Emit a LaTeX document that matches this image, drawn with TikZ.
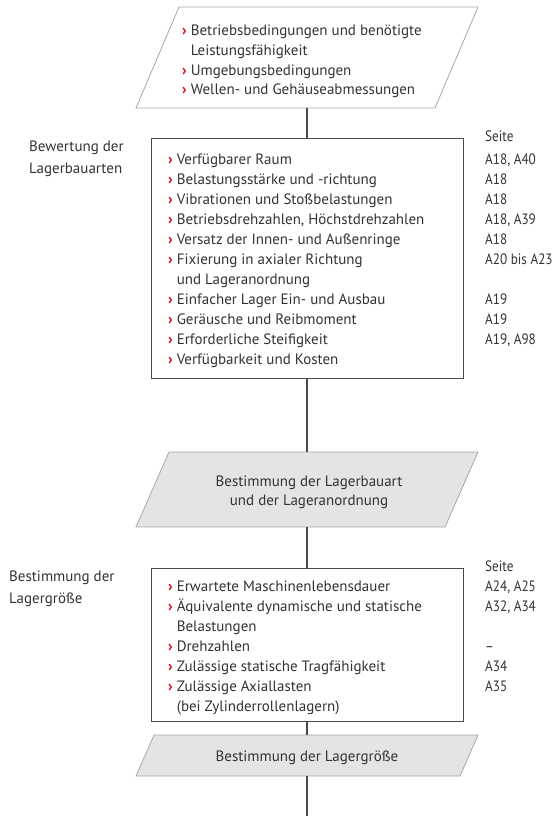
\documentclass[tikz,border=0pt]{standalone}
\usepackage{fontspec}
\setmainfont{PT Sans}
\newfontfamily\pagefont{PT Sans}[FakeStretch=0.88]
\usetikzlibrary{calc}
\definecolor{ink}{HTML}{333333}
\definecolor{chevred}{HTML}{E2001A}
\definecolor{framegray}{HTML}{4A4A4A}
\definecolor{paraline}{HTML}{A8A8A8}
\definecolor{parafill}{HTML}{E4E4E4}
\newcommand\redchev{\textcolor{chevred}{\textbf{›}}\hspace{4pt}}
\newcommand\chevgap{\hphantom{\redchev}}
\newcommand\lead[1]{\ifnum#1=1 \redchev\else\chevgap\fi}
\begin{document}
\begin{tikzpicture}[x=1pt,y=-1pt,
  font=\fontsize{15}{19}\selectfont, text=ink,
  holder/.style={inner sep=0pt, outer sep=0pt, minimum width=342pt},
  listbox/.style={draw=framegray, line width=1pt, fill=white, inner sep=0pt,
    minimum width=312pt},
  paraedge/.style={draw=paraline, line width=0.8pt},
  link/.style={draw=framegray, line width=1.3pt},
  row/.style={anchor=base west, inner sep=0pt},
  pagecol/.style={row, font=\fontsize{15}{19}\pagefont},
  midtext/.style={anchor=base, inner sep=0pt}]
\useasboundingbox (0,0) rectangle (559,816);

% input parallelogram
\node[holder, minimum height=101pt] (p1) at (307,57.5) {};
\draw[paraedge, fill=white] ($(p1.north west)+(43,0)$) -- (p1.north east)
  -- ($(p1.south east)-(43,0)$) -- (p1.south west) -- cycle;
\foreach \b/\t [count=\i] in {1/Betriebsbedingungen und benötigte,
    0/Leistungsfähigkeit, 1/Umgebungsbedingungen, 1/Wellen- und Gehäuseabmessungen}
  \node[row] (in\i) at (182,{36+19.5*(\i-1)}) {\lead{\b}\t};

% first list box
\node[listbox, minimum height=240pt] (b1) at (307,258) {};
\node[row] (lab1a) at (29,151) {Bewertung der};
\node[row] (lab1b) at (29,173) {Lagerbauarten};
\node[pagecol] (seite1) at (485,141) {Seite};
\foreach \b/\t/\p [count=\i] in {
    1/{Verfügbarer Raum}/{A18, A40},
    1/{Belastungsstärke und -richtung}/{A18},
    1/{Vibrationen und Stoßbelastungen}/{A18},
    1/{Betriebsdrehzahlen, Höchstdrehzahlen}/{A18, A39},
    1/{Versatz der Innen- und Außenringe}/{A18},
    1/{Fixierung in axialer Richtung}/{A20 bis A23},
    0/{und Lageranordnung}/{},
    1/{Einfacher Lager Ein- und Ausbau}/{A19},
    1/{Geräusche und Reibmoment}/{A19},
    1/{Erforderliche Steifigkeit}/{A19, A98},
    1/{Verfügbarkeit und Kosten}/{}}{
  \node[row] (ba\i) at (168,{164+20*(\i-1)}) {\lead{\b}\t};
  \node[pagecol] (bp\i) at (485,{164+20*(\i-1)}) {\p};
}

% first result
\node[holder, minimum height=75pt] (p2) at (307,489.5) {};
\draw[paraedge, fill=parafill] ($(p2.north west)+(33,0)$) -- (p2.north east)
  -- ($(p2.south east)-(33,0)$) -- (p2.south west) -- cycle;
\node[midtext] (r1a) at (309,486) {Bestimmung der Lagerbauart};
\node[midtext] (r1b) at (309,505) {und der Lageranordnung};

% second list box
\node[listbox, minimum height=153pt] (b2) at (307,644.5) {};
\node[row] (lab2a) at (9,581) {Bestimmung der};
\node[row] (lab2b) at (9,603) {Lagergröße};
\node[pagecol] (seite2) at (485,571) {Seite};
\foreach \b/\t/\p [count=\i] in {
    1/{Erwartete Maschinenlebensdauer}/{A24, A25},
    1/{Äquivalente dynamische und statische}/{A32, A34},
    0/{Belastungen}/{},
    1/{Drehzahlen}/{–},
    1/{Zulässige statische Tragfähigkeit}/{A34},
    1/{Zulässige Axiallasten}/{A35},
    0/{(bei Zylinderrollenlagern)}/{}}{
  \node[row] (ca\i) at (168,{591+20*(\i-1)}) {\lead{\b}\t};
  \node[pagecol] (cp\i) at (485,{591+20*(\i-1)}) {\p};
}

% second result
\node[holder, minimum height=41pt] (p3) at (307,755.5) {};
\draw[paraedge, fill=parafill] ($(p3.north west)+(18,0)$) -- (p3.north east)
  -- ($(p3.south east)-(18,0)$) -- (p3.south west) -- cycle;
\node[midtext] (r2) at (307,761) {Bestimmung der Lagergröße};

% flow line
\coordinate (tail) at (307,816);
\draw[link] (p1.south) -- (b1.north);
\draw[link] (b1.south) -- (p2.north);
\draw[link] (p2.south) -- (b2.north);
\draw[link] (b2.south) -- (p3.north);
\draw[link] (p3.south) -- (tail);
\end{tikzpicture}
\end{document}
